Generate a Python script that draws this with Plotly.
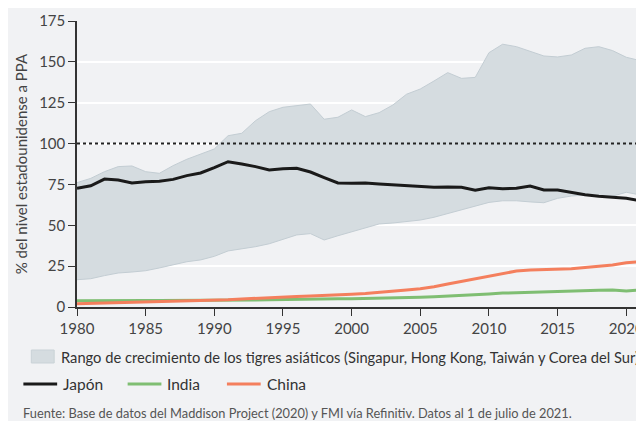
import plotly.graph_objects as go

years = list(range(1980, 2022))

tigres_max = [76.1, 78.7, 82.8, 85.9, 86.3, 82.8, 81.8, 86.5, 90.4, 93.4,
              96.7, 104.8, 106.3, 114.0, 119.5, 122.2, 123.0, 124.2, 114.9, 116.1,
              120.6, 116.5, 118.9, 123.6, 130.2, 133.4, 138.3, 143.4, 139.9, 140.5,
              155.6, 160.8, 159.3, 156.3, 153.6, 153.0, 154.2, 158.3, 159.3, 156.9,
              152.8, 150.8]
tigres_min = [16.7, 17.3, 19.2, 20.8, 21.4, 22.2, 23.9, 25.9, 27.7, 28.8,
              31.0, 34.3, 35.5, 36.9, 38.7, 41.4, 44.1, 44.9, 41.0, 43.6,
              46.1, 48.5, 50.8, 51.4, 52.2, 53.2, 54.9, 57.1, 59.2, 61.4,
              64.0, 65.0, 65.0, 64.3, 63.8, 66.5, 67.9, 68.5, 67.9, 67.8,
              70.2, 68.6]
japon = [72.6, 74.2, 78.3, 77.7, 75.9, 76.7, 76.9, 78.1, 80.4, 82.0,
         85.3, 88.9, 87.5, 85.9, 83.8, 84.6, 84.9, 82.6, 79.2, 75.9,
         75.7, 75.9, 75.3, 74.7, 74.3, 73.6, 73.2, 73.4, 73.2, 71.4,
         73.0, 72.4, 72.6, 74.0, 71.6, 71.6, 70.0, 68.7, 67.7, 67.1,
         66.5, 65.1]
india = [3.9, 4.0, 4.1, 4.2, 4.0, 4.0, 4.0, 4.0, 4.1, 4.2,
         4.2, 4.1, 4.2, 4.3, 4.5, 4.7, 4.9, 5.0, 5.0, 5.1,
         5.1, 5.2, 5.2, 5.4, 5.6, 5.9, 6.2, 6.6, 6.8, 7.3,
         8.0, 8.5, 8.8, 9.0, 9.2, 9.4, 9.8, 10.1, 10.3, 10.4,
         9.8, 10.5]
china = [2.0, 2.2, 2.4, 2.7, 3.0, 3.2, 3.5, 3.8, 4.0, 4.0,
         4.1, 4.4, 4.9, 5.4, 5.8, 6.2, 6.5, 6.8, 7.0, 7.3,
         7.8, 8.3, 8.9, 9.5, 10.4, 11.2, 12.4, 14.1, 15.7, 17.6,
         19.2, 20.8, 22.0, 22.6, 22.8, 23.1, 23.4, 24.1, 24.9, 25.7,
         27.1, 27.7]

x_ticks = list(range(1980, 2021, 5))
y_ticks = list(range(0, 176, 25))

FONT = "Lato"
TXT = "#333333"
BG = "#f1f2f4"
BAND = "#d5dce0"
BAND_EDGE = "#c3cdd3"
C_JP = "#1a1a1a"
C_IN = "#7fbe72"
C_CN = "#f47f5d"

# plot area in page pixels: x 77..644, y 21..307 (width 567, height 286)
def px(xp):
    return (xp - 77) / 567

def py(yp):
    return (307 - yp) / 286

fig = go.Figure()
fig.add_trace(go.Scatter(x=years, y=tigres_min, mode="lines",
                         line=dict(color=BAND_EDGE, width=1), hoverinfo="skip",
                         showlegend=False))
fig.add_trace(go.Scatter(x=years, y=tigres_max, mode="lines", fill="tonexty",
                         fillcolor=BAND, line=dict(color=BAND_EDGE, width=1),
                         showlegend=False))
fig.add_trace(go.Scatter(x=years, y=india, mode="lines",
                         line=dict(color=C_IN, width=3), showlegend=False))
fig.add_trace(go.Scatter(x=years, y=china, mode="lines",
                         line=dict(color=C_CN, width=3), showlegend=False))
fig.add_trace(go.Scatter(x=years, y=japon, mode="lines",
                         line=dict(color=C_JP, width=3), showlegend=False))

# 100% reference line
fig.add_shape(type="line", xref="paper", yref="y", x0=0, x1=1, y0=100, y1=100,
              line=dict(color="#222222", width=2, dash="dot"))

# legend (manual)
fig.add_shape(type="rect", xref="paper", yref="paper",
              x0=px(31), x1=px(54), y0=py(350), y1=py(363),
              fillcolor=BAND, line=dict(color="#c9d2d7", width=1))
fig.add_annotation(xref="paper", yref="paper", x=px(59), y=py(357),
                   xanchor="left", yanchor="middle", showarrow=False,
                   text="Rango de crecimiento de los tigres asiáticos (Singapur, Hong Kong, Taiwán y Corea del Sur)",
                   font=dict(family=FONT, size=14.7, color=TXT))
legend_items = [("Japón", C_JP, 23), ("India", C_IN, 128), ("China", C_CN, 228)]
for name, col, lx in legend_items:
    yy = py(384)
    fig.add_shape(type="line", xref="paper", yref="paper", x0=px(lx), x1=px(lx + 34),
                  y0=yy, y1=yy, line=dict(color=col, width=3))
    fig.add_annotation(xref="paper", yref="paper", x=px(lx + 38), y=yy,
                       xanchor="left", yanchor="middle", showarrow=False, text=name,
                       font=dict(family=FONT, size=15.5, color=TXT))

fig.add_annotation(xref="paper", yref="paper", x=px(21), y=py(413),
                   xanchor="left", yanchor="middle", showarrow=False,
                   text="Fuente: Base de datos del Maddison Project (2020) y FMI vía Refinitiv. Datos al 1 de julio de 2021.",
                   font=dict(family=FONT, size=12.8, color="#555555"))

fig.update_layout(
    width=636, height=413,
    margin=dict(l=69, r=0, t=13, b=114),
    paper_bgcolor=BG, plot_bgcolor=BG,
    font=dict(family=FONT, color=TXT),
    showlegend=False,
    xaxis=dict(range=[1980, 2021], tickvals=x_ticks, ticks="outside", ticklen=7,
               tickcolor="#333333", showline=True, linecolor="#333333", linewidth=1.5,
               showgrid=False, zeroline=False, ticklabeloverflow="allow",
               tickfont=dict(size=15, color="#444444")),
    yaxis=dict(range=[0, 175], tickvals=y_ticks, ticks="outside", ticklen=7,
               tickcolor="#333333", showline=True, linecolor="#333333", linewidth=1.5,
               showgrid=True, gridcolor="white", gridwidth=2, zeroline=False,
               tickfont=dict(size=15, color="#444444"),
               title=dict(text="% del nivel estadounidense a PPA", standoff=8,
                          font=dict(size=15, color="#444444"))),
)

fig.write_html("out.html")
